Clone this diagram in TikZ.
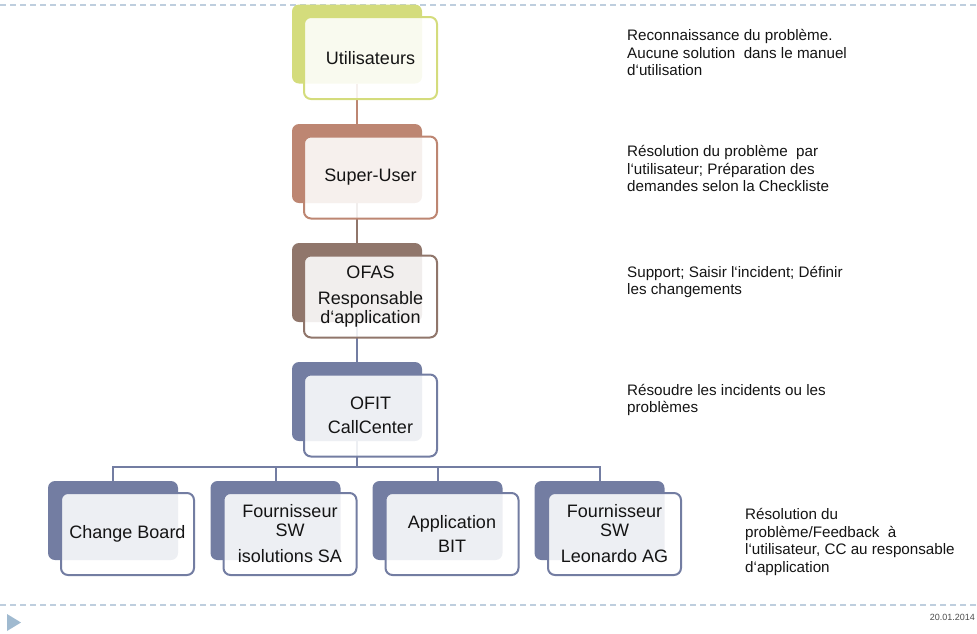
\documentclass[tikz,border=0pt]{standalone}
\usepackage{fontspec}
\setmainfont{Liberation Sans}
\usetikzlibrary{backgrounds}
\definecolor{cgreen}{RGB}{212,220,124}
\definecolor{cbrown}{RGB}{189,134,114}
\definecolor{cdbrown}{RGB}{144,118,107}
\definecolor{cblue}{RGB}{115,125,162}
\definecolor{cdash}{RGB}{190,206,222}
\definecolor{ctri}{RGB}{160,186,208}
\definecolor{ctext}{RGB}{20,20,20}
\begin{document}
\begin{tikzpicture}[x=1pt,y=-1pt,
  backbox/.style={rectangle, rounded corners=7pt, minimum width=130pt, minimum height=79pt, fill=#1, draw=none, inner sep=0pt},
  frontbox/.style={rectangle, rounded corners=7pt, minimum width=133pt, minimum height=82pt, draw=#1, line width=2pt, fill=white, fill opacity=0.88, text opacity=1, align=center, inner sep=0pt, text=ctext, font=\fontsize{18}{18.5}\selectfont},
  conn/.style={draw=#1, line width=2pt},
  note/.style={anchor=west, align=left, inner sep=0pt, text=ctext, font=\fontsize{15.2}{17.8}\selectfont},
  dashline/.style={draw=cdash, line width=1.5pt, dash pattern=on 6pt off 4pt}
]
\useasboundingbox (0,0) rectangle (977,633);

% back boxes
\node[backbox=cgreen]  (b1) at (357,44) {};
\node[backbox=cbrown]  (b2) at (357,163.5) {};
\node[backbox=cdbrown] (b3) at (357,282.5) {};
\node[backbox=cblue]   (b4) at (357,401.5) {};
\node[backbox=cblue]   (b5) at (113,520.5) {};
\node[backbox=cblue]   (b6) at (275.5,520.5) {};
\node[backbox=cblue]   (b7) at (437.5,520.5) {};
\node[backbox=cblue]   (b8) at (599.5,520.5) {};

% front boxes
\node[frontbox=cgreen]  (f1) at (370.5,58) {Utilisateurs};
\node[frontbox=cbrown]  (f2) at (370.5,177.5) {Super-User};
\node[frontbox=cdbrown] (f3) at (370.5,296.5) {OFAS\\[8pt]Responsable\\d‘application};
\node[frontbox=cblue]   (f4) at (370.5,415.5) {OFIT\\[6pt]CallCenter};
\node[frontbox=cblue]   (f5) at (127.5,534) {Change Board};
\node[frontbox=cblue]   (f6) at (290,534) {Fournisseur\\SW\\[8pt]isolutions SA};
\node[frontbox=cblue]   (f7) at (452,534) {Application\\[6pt]BIT};
\node[frontbox=cblue]   (f8) at (614.5,534) {Fournisseur\\SW\\[8pt]Leonardo AG};

\coordinate (bar) at (0,467);

\begin{pgfonlayer}{background}
  \draw[dashline] (0,5) -- (977,5);
  \draw[dashline] (0,605) -- (977,605);
  \draw[conn=cbrown]  (b1.south) -- (b2.north);
  \draw[conn=cdbrown] (b2.south) -- (b3.north);
  \draw[conn=cblue]   (b3.south) -- (b4.north);
  \draw[conn=cblue]   (b4.south) -- (b4.south |- bar);
  \draw[conn=cblue]   (b5.north) -- (b5.north |- bar) -- (b8.north |- bar) -- (b8.north);
  \draw[conn=cblue]   (b6.north) -- (b6.north |- bar);
  \draw[conn=cblue]   (b7.north) -- (b7.north |- bar);
\end{pgfonlayer}

% notes
\node[note] (n1) at (627,52.5) {Reconnaissance du problème.\\Aucune solution\ \ dans le manuel\\d‘utilisation};
\node[note] (n2) at (627,168.5) {Résolution du problème\ \ par\\l‘utilisateur; Préparation des\\demandes selon la Checkliste};
\node[note] (n3) at (627,282) {Support; Saisir l‘incident; Définir\\les changements};
\node[note] (n4) at (627,400) {Résoudre les incidents ou les\\problèmes};
\node[note] (n5) at (745,542) {Résolution du\\problème/Feedback\ \ à\\l‘utilisateur, CC au responsable\\d‘application};

% footer
\fill[ctri] (7,614) -- (7,631) -- (21,622.5) -- cycle;
\node[anchor=east, inner sep=0pt, text=black!70, font=\fontsize{9}{10}\selectfont] (date) at (975,617) {20.01.2014};
\end{tikzpicture}
\end{document}
